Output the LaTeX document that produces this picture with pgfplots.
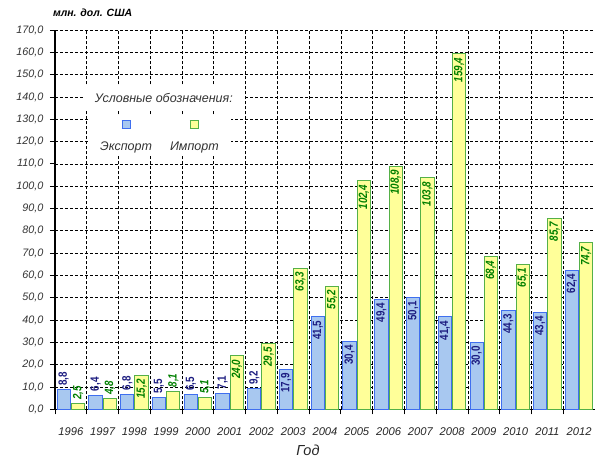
\documentclass[border=0pt]{standalone}
\usepackage{fontspec}
\setmainfont{Liberation Sans}
\IfFontExistsTF{Liberation Sans Narrow}{\newfontfamily\narrowfont{Liberation Sans Narrow}}{\newfontfamily\narrowfont[FakeStretch=0.82]{Liberation Sans}}
\usepackage{pgfplots}
\usepackage{pgfplotstable}
\pgfplotsset{compat=1.18}
\definecolor{expfill}{HTML}{A8C8F0}
\definecolor{expdraw}{HTML}{3F6FEF}
\definecolor{impfill}{HTML}{FFFF99}
\definecolor{impdraw}{HTML}{55B048}
\definecolor{explab}{HTML}{1C1C80}
\definecolor{implab}{HTML}{007F00}
\definecolor{txtgray}{HTML}{333333}

\pgfplotstableread{
x exp imp
0 8.8 2.5
1 6.4 4.8
2 6.8 15.2
3 5.5 8.1
4 6.5 5.1
5 7.1 24.0
6 9.2 29.5
7 17.9 63.3
8 41.5 55.2
9 30.4 102.4
10 49.4 108.9
11 50.1 103.8
12 41.4 159.4
13 30.0 68.4
14 44.3 65.1
15 43.4 85.7
16 62.4 74.7
}\data

\pgfplotsset{
  barlab/.style={nodes near coords={\pgfmathprintnumber[fixed,fixed zerofill,precision=1,use comma]{\pgfplotspointmeta}}},
  expbar/.style={forget plot, bar width=0.42, bar shift=-0.225, fill=expfill, draw=expdraw, line width=1pt, barlab,
    every node near coord/.append style={rotate=90, font=\narrowfont\bfseries\fontsize{12}{13}\selectfont, text=explab, inner sep=1pt, inner xsep=3.5pt, anchor=#1}},
  impbar/.style={forget plot, bar width=0.42, bar shift=0.225, fill=impfill, draw=impdraw, line width=1pt, barlab,
    every node near coord/.append style={rotate=90, font=\narrowfont\bfseries\itshape\fontsize{12}{13}\selectfont, text=implab, inner sep=1pt, inner xsep=3.5pt, anchor=#1}},
}

\begin{document}
\begin{tikzpicture}
\begin{axis}[
  name=ax, scale only axis, width=540pt, height=379.3pt,
  xmin=-0.5, xmax=16.5, ymin=0, ymax=170,
  ybar,
  axis x line=bottom, axis y line=left,
  axis line style={-, line width=1.2pt, black},
  xtick={-0.5,0.5,...,16.5}, xticklabels={},
  extra x ticks={0,1,...,16},
  extra x tick labels={1996,1997,1998,1999,2000,2001,2002,2003,2004,2005,2006,2007,2008,2009,2010,2011,2012},
  extra x tick style={grid=none, major tick length=0pt},
  xticklabel style={font=\fontsize{11.2}{12}\selectfont\itshape, text=black!85, yshift=-15pt},
  ytick={0,10,...,170},
  yticklabel style={font=\fontsize{10.8}{12}\selectfont\itshape, text=txtgray, xshift=-3pt},
  /pgf/number format/.cd, fixed, fixed zerofill, precision=1, use comma, 1000 sep={}, assume math mode=true, /pgfplots/.cd,
  tick align=outside, major tick length=5pt,
  tick style={black, line width=0.8pt},
  grid=major,
  grid style={black, line width=0.7pt, dash pattern=on 3pt off 2pt},
  xlabel={Год},
  x label style={at={(axis description cs:0.4685,-0.107)}, anchor=center, inner sep=1pt, font=\fontsize{14.5}{16}\selectfont\itshape, text=black!85},
  clip=false,
  legend columns=2,
  legend style={at={(axis cs:0.537,113.4)}, anchor=south west, draw=none, fill=white,
    inner xsep=10pt, inner ysep=2pt, font=\fontsize{12.5}{14}\selectfont\itshape, text=txtgray,
    /tikz/every even column/.append style={column sep=14pt}},
]
\addplot[expbar=west, restrict y to domain=0:12] table[x=x, y=exp] {\data};
\addplot[expbar=east, restrict y to domain=12:200] table[x=x, y=exp] {\data};
\addplot[impbar=west, restrict y to domain=0:12] table[x=x, y=imp] {\data};
\addplot[impbar=east, restrict y to domain=12:200] table[x=x, y=imp] {\data};
\addlegendimage{empty legend}
\addlegendentry{\shortstack{{\setlength{\fboxsep}{0pt}\setlength{\fboxrule}{1pt}\fcolorbox{expdraw}{expfill}{\rule{0pt}{7pt}\hspace{7pt}}}\\[10pt]Экспорт}}
\addlegendimage{empty legend}
\addlegendentry{\shortstack{{\setlength{\fboxsep}{0pt}\setlength{\fboxrule}{1pt}\fcolorbox{impdraw}{impfill}{\rule{0pt}{7pt}\hspace{7pt}}}\\[10pt]Импорт}}
\node[fill=white, minimum width=160pt, minimum height=26pt, inner sep=0pt, font=\fontsize{12.5}{14}\selectfont\itshape, text=txtgray] at (axis cs:2.925,139.4) {Условные обозначения:};
\node[anchor=west, inner sep=0pt, font=\fontsize{10.5}{12}\selectfont\bfseries\itshape] at (axis description cs:-0.004,1.0448) {млн. дол. США};
\end{axis}
\pgfresetboundingbox
\useasboundingbox ([shift={(-55pt,-49.7pt)}]ax.south west) rectangle ([shift={(0pt,30pt)}]ax.north east);
\end{tikzpicture}
\end{document}
